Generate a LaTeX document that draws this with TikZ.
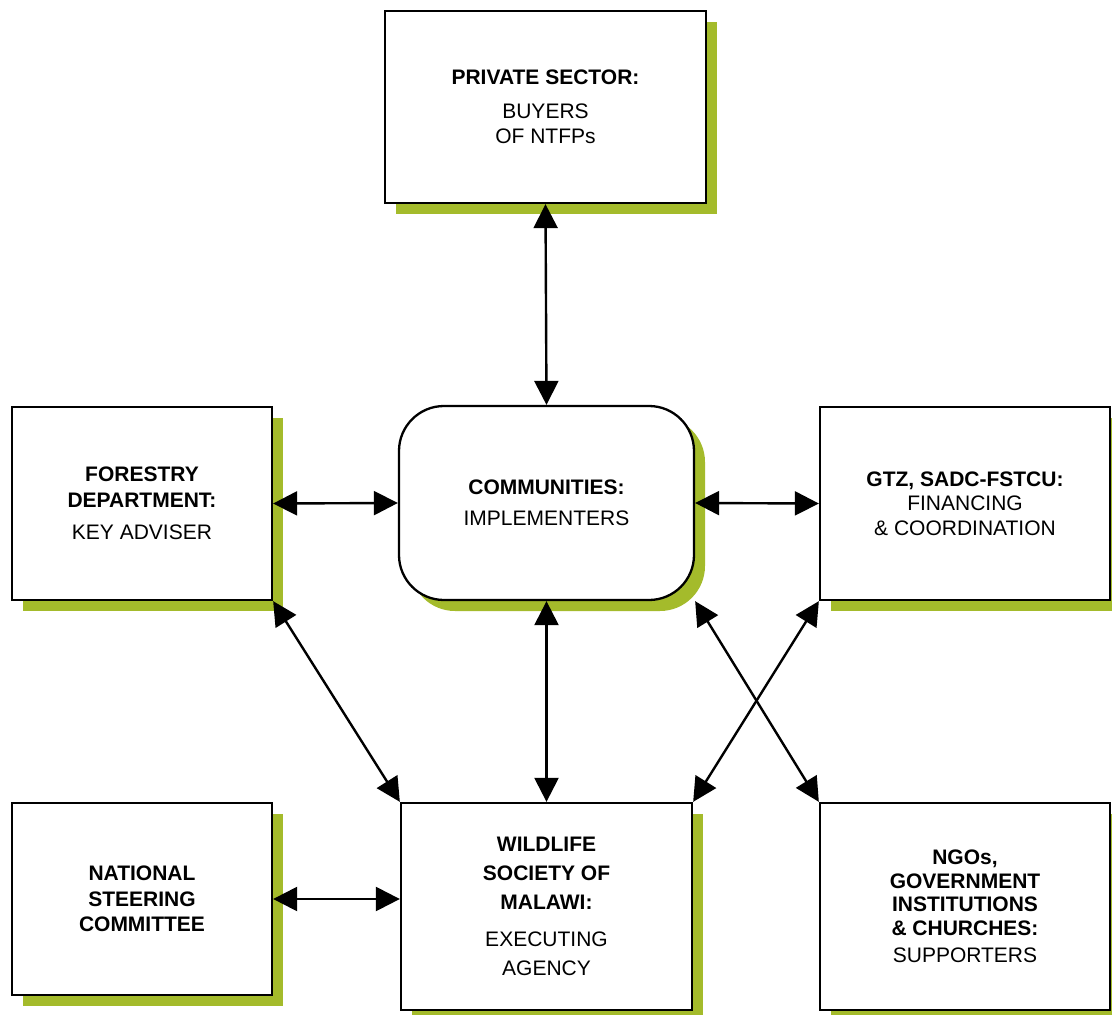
\documentclass[tikz,border=0pt]{standalone}
\usepackage{fontspec}
\setmainfont{Liberation Sans}
\usetikzlibrary{arrows.meta,shadows}
\definecolor{lgreen}{RGB}{164,187,43}
\begin{document}
\begin{tikzpicture}[x=1pt,y=-1pt,
  box/.style={draw=black, line width=2.3pt, fill=white, align=center, inner sep=0pt,
    general shadow={fill=lgreen, shadow xshift=11pt, shadow yshift=-11pt},
    font=\fontsize{21}{25.5}\selectfont},
  link/.style={line width=2.4pt, {Triangle[length=24pt,width=24pt]}-{Triangle[length=24pt,width=24pt]}}]
\useasboundingbox (0,0) rectangle (1112,1015);
\node[box, minimum width=321pt, minimum height=192pt] (priv) at (545.5,107)
  {\textbf{PRIVATE SECTOR:}\\[8pt] BUYERS\\ OF NTFPs};
\node[box, minimum width=260pt, minimum height=193pt] (forest) at (142,503.5)
  {\textbf{FORESTRY}\\ \textbf{DEPARTMENT:}\\[7pt] KEY ADVISER};
\node[box, rounded corners=45pt, minimum width=295pt, minimum height=194pt] (comm) at (546.5,503)
  {\textbf{COMMUNITIES:}\\[6pt] IMPLEMENTERS};
\node[box, minimum width=290pt, minimum height=193pt, font=\fontsize{21}{24.5}\selectfont] (gtz) at (965,503.5)
  {\textbf{GTZ, SADC-FSTCU:}\\ FINANCING\\ \&\ COORDINATION};
\node[box, minimum width=260pt, minimum height=192pt] (nat) at (142,899)
  {\textbf{NATIONAL}\\ \textbf{STEERING}\\ \textbf{COMMITTEE}};
\node[box, minimum width=291pt, minimum height=207pt, font=\fontsize{21}{29}\selectfont] (wild) at (546.5,906.5)
  {\textbf{WILDLIFE}\\ \textbf{SOCIETY OF}\\ \textbf{MALAWI:}\\[8pt] EXECUTING\\ AGENCY};
\node[box, minimum width=290pt, minimum height=207pt, font=\fontsize{21}{23.5}\selectfont] (ngo) at (965,906.5)
  {\textbf{NGOs,}\\ \textbf{GOVERNMENT}\\ \textbf{INSTITUTIONS}\\ \textbf{\&\ CHURCHES:}\\[4pt] SUPPORTERS};
\draw[link] (priv.south) -- (comm.north);
\draw[link] (forest.east) -- (comm.west);
\draw[link] (comm.east) -- (gtz.west);
\draw[link] (comm.south) -- (wild.north);
\draw[link] (forest.south east) -- (wild.north west);
\draw[link] (gtz.south west) -- (wild.north east);
\draw[link] (comm.south east) -- (ngo.north west);
\draw[link] (nat.east) -- (nat.east -| wild.west);
\end{tikzpicture}
\end{document}
